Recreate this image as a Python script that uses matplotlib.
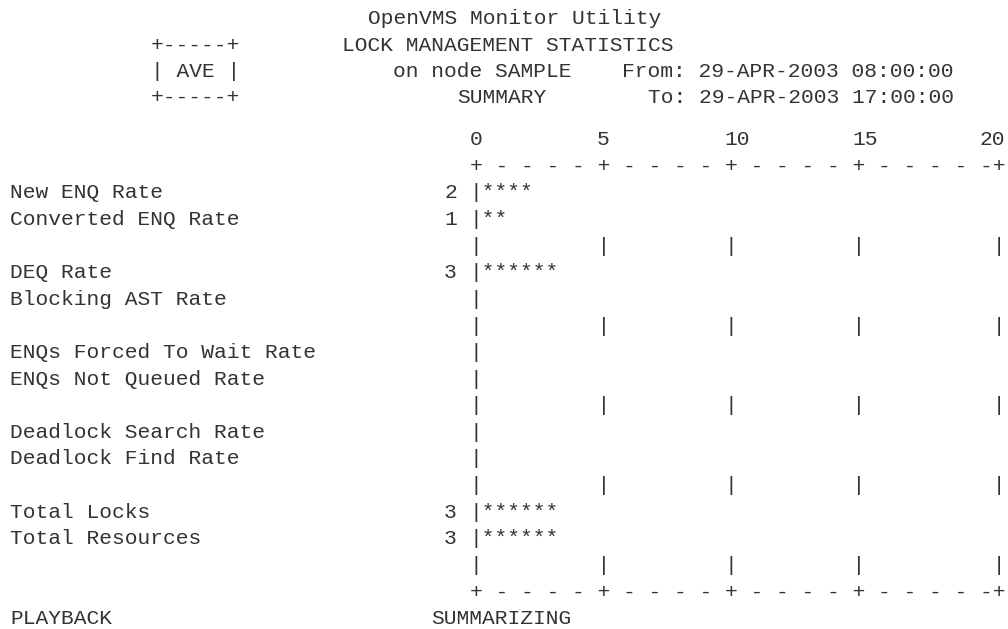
import matplotlib
matplotlib.use("Agg")
import matplotlib.pyplot as plt

# report header
title = "OpenVMS Monitor Utility"
subtitle = "LOCK MANAGEMENT STATISTICS"
node = "SAMPLE"
stat_kind = "AVE"
time_from = "29-APR-2003 08:00:00"
time_to = "29-APR-2003 17:00:00"
footer_left = "PLAYBACK"
footer_mid = "SUMMARIZING"

# scale and data
scale_ticks = [0, 5, 10, 15, 20]
labels = ["New ENQ Rate", "Converted ENQ Rate",
          "DEQ Rate", "Blocking AST Rate",
          "ENQs Forced To Wait Rate", "ENQs Not Queued Rate",
          "Deadlock Search Rate", "Deadlock Find Rate",
          "Total Locks", "Total Resources"]
values = [2, 1, 3, 0, 0, 0, 0, 0, 3, 3]

W, H = 1008, 629
X0 = 10.5       # left edge of column 0, px
PITCH = 12.75   # character width, px
FS = PITCH / 0.6 * 72 / 100
INK = "#333333"
FONT = ["Liberation Mono", "DejaVu Sans Mono"]

AXIS_COL = 36
COLS_PER_UNIT = 2

fig = plt.figure(figsize=(W / 100, H / 100), dpi=100)
fig.patch.set_facecolor("white")
ax = fig.add_axes([0, 0, 1, 1])
ax.set_xlim(0, W)
ax.set_ylim(H, 0)
ax.axis("off")


def col_x(c):
    return X0 + c * PITCH


def header_y(r):
    return 19 + 26.3 * r


def row_y(r):
    return 193 + 26.6 * (r - 7)


def put(c, y, s, ha="left"):
    ax.text(col_x(c), y, s, ha=ha, va="center", fontsize=FS,
            family=FONT, color=INK)


# header block
put(28, header_y(0), title)
put(11, header_y(1), "+-----+")
put(26, header_y(1), subtitle)
put(11, header_y(2), "| " + stat_kind + " |")
put(30, header_y(2), "on node " + node)
put(48, header_y(2), "From: " + time_from)
put(11, header_y(3), "+-----+")
put(35, header_y(3), "SUMMARY")
put(50, header_y(3), "To: " + time_to)

# scale labels and axis rows
for t in scale_ticks:
    put(AXIS_COL + t * COLS_PER_UNIT, row_y(5), str(t))
seg = COLS_PER_UNIT * (scale_ticks[1] - scale_ticks[0])
n_seg = len(scale_ticks) - 1
axis_line = ("+" + " -" * (seg // 2 - 1) + " ") * n_seg + "-+"
sep_line = ("|" + " " * (seg - 1)) * n_seg + " |"
put(AXIS_COL, row_y(6), axis_line)

# bars, two statistics per group followed by a grid row
for i, (lab, v) in enumerate(zip(labels, values)):
    r = 7 + i + i // 2
    y = row_y(r)
    put(0, y, lab)
    if v:
        put(AXIS_COL - 1, y, str(v), ha="right")
    put(AXIS_COL, y, "|" + "*" * int(round(v * COLS_PER_UNIT)))
    if i % 2 == 1:
        put(AXIS_COL, row_y(r + 1), sep_line)

last = 7 + len(labels) + len(labels) // 2
put(AXIS_COL, row_y(last), axis_line)
put(0, row_y(last + 1), footer_left)
put(33, row_y(last + 1), footer_mid)

fig.savefig("out.png", dpi=100, facecolor="white")
